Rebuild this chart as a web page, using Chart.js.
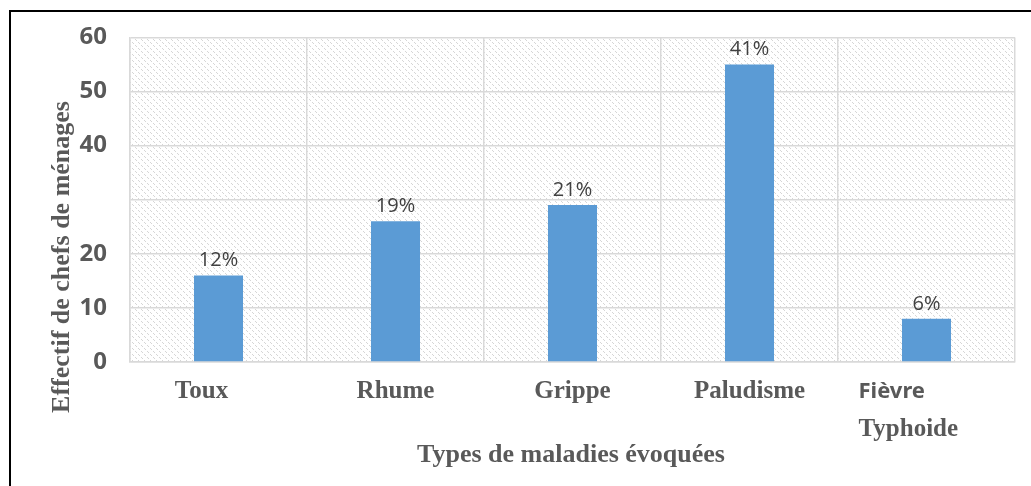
<!DOCTYPE html>
<html>
<head>
<meta charset="utf-8">
<script src="https://cdn.jsdelivr.net/npm/chart.js@4/dist/chart.umd.min.js"></script>
<style>
  body { margin: 0; background: #fff; }
</style>
</head>
<body>
<canvas id="chart" width="1031" height="486"></canvas>
<script>
const categories = ['Toux', 'Rhume', 'Grippe', 'Paludisme', 'Fièvre Typhoide'];
const effectifs = [16, 26, 29, 55, 8];
const pourcentages = ['12%', '19%', '21%', '41%', '6%'];
const yTicks = [0, 10, 20, 40, 50, 60];

const ctx = document.querySelector('#chart').getContext('2d');

// hatched background for the plot area
function makePattern() {
    const p = document.createElement('canvas');
    p.width = 6; p.height = 6;
    const c = p.getContext('2d');
    c.fillStyle = '#ffffff';
    c.fillRect(0, 0, 6, 6);
    c.fillStyle = '#d6d6d6';
    for (let i = 0; i < 6; i++) {
        if (i % 3 !== 2) c.fillRect(i, i, 1, 1);
    }
    return ctx.createPattern(p, 'repeat');
}

const decor = {
    id: 'decor',
    beforeDraw(chart) {
        const { ctx, chartArea: a } = chart;
        ctx.save();
        ctx.fillStyle = makePattern();
        ctx.fillRect(a.left, a.top, a.right - a.left, a.bottom - a.top);
        ctx.restore();
    },
    afterDraw(chart) {
        const { ctx } = chart;
        const x = chart.scales.x;
        ctx.save();
        // frame
        ctx.strokeStyle = '#000';
        ctx.lineWidth = 2;
        ctx.beginPath();
        ctx.moveTo(1031, 11);
        ctx.lineTo(10, 11);
        ctx.lineTo(10, 486);
        ctx.stroke();

        // category labels
        ctx.fillStyle = '#595959';
        ctx.textBaseline = 'middle';
        categories.forEach((cat, i) => {
            const cx = x.getPixelForValue(i);
            if (i === categories.length - 1) {
                const left = cx - 68;
                const parts = cat.split(' ');
                ctx.textAlign = 'left';
                ctx.font = 'bold 22px "Noto Sans"';
                ctx.fillText(parts[0], left, 392);
                ctx.font = 'bold 25px "Liberation Serif"';
                ctx.fillText(parts[1], left, 430);
            } else {
                ctx.textAlign = 'center';
                ctx.font = 'bold 25px "Liberation Serif"';
                ctx.fillText(cat, i === 0 ? cx - 17 : cx, 392);
            }
        });

        // axis titles
        ctx.textAlign = 'center';
        ctx.font = 'bold 26px "Liberation Serif"';
        ctx.fillText('Types de maladies évoquées', 571, 455);
        ctx.translate(62, 257);
        ctx.rotate(-Math.PI / 2);
        ctx.fillText('Effectif de chefs de ménages', 0, 0);
        ctx.restore();
    },
    afterDatasetsDraw(chart) {
        const { ctx } = chart;
        const meta = chart.getDatasetMeta(0);
        ctx.save();
        ctx.fillStyle = '#404040';
        ctx.font = '20px "Open Sans"';
        ctx.textAlign = 'center';
        ctx.textBaseline = 'alphabetic';
        meta.data.forEach((bar, i) => {
            ctx.fillText(pourcentages[i], bar.x, bar.y - 9);
        });
        ctx.restore();
    }
};

const chart = new Chart(ctx, {
    type: 'bar',
    data: {
        labels: categories,
        datasets: [{
            label: 'Effectif',
            data: effectifs,
            backgroundColor: '#5b9bd5',
            categoryPercentage: 1,
            barPercentage: 0.277
        }]
    },
    options: {
        responsive: false,
        animation: false,
        layout: { padding: { top: 37, right: 16, left: 0, bottom: 0 } },
        plugins: {
            legend: { display: false },
            tooltip: { enabled: false }
        },
        scales: {
            x: {
                grid: { color: '#d9d9d9', lineWidth: 1.5, drawTicks: false },
                border: { color: '#d9d9d9', width: 1.5 },
                ticks: { display: false },
                afterFit(scale) { scale.height = 124; }
            },
            y: {
                min: 0,
                max: 60,
                grid: { color: '#d9d9d9', lineWidth: 1.5, drawTicks: false },
                border: { color: '#d9d9d9', width: 1.5 },
                afterBuildTicks(scale) {
                    scale.ticks = [0, 10, 20, 30, 40, 50, 60].map(v => ({ value: v }));
                },
                ticks: {
                    padding: 23,
                    color: '#595959',
                    font: { family: 'Noto Sans', weight: 'bold', size: 24 },
                    callback: v => yTicks.includes(v) ? String(v) : ''
                },
                afterFit(scale) { scale.width = 130; }
            }
        }
    },
    plugins: [decor]
});
</script>
</body>
</html>
